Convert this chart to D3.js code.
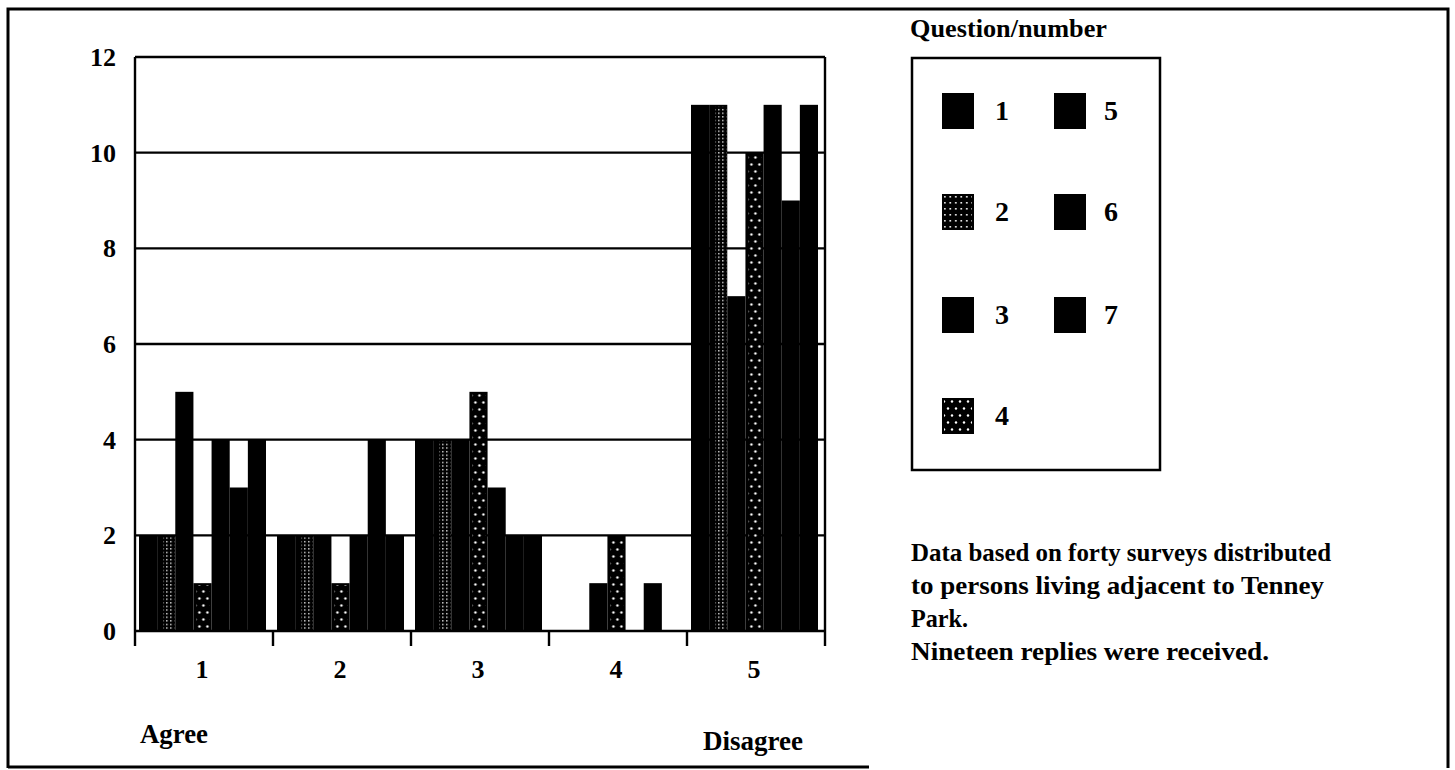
<!DOCTYPE html>
<html><head><meta charset="utf-8">
<script src="https://cdn.jsdelivr.net/npm/d3@7"></script>
<style>html,body{margin:0;padding:0;background:#fff;}svg{display:block;}</style>
</head><body>
<script>
// ---- data ----
const categories = ["1", "2", "3", "4", "5"];
const categoryEnds = ["Agree", "Disagree"];
const questions = ["1", "2", "3", "4", "5", "6", "7"];
const q1 = [2, 2, 4, 0, 11];
const q2 = [2, 2, 4, 0, 11];
const q3 = [5, 2, 4, 1, 7];
const q4 = [1, 1, 5, 2, 10];
const q5 = [4, 2, 3, 0, 11];
const q6 = [3, 4, 2, 1, 9];
const q7 = [4, 2, 2, 0, 11];
const yTicks = [0, 2, 4, 6, 8, 10, 12];
const legendTitle = "Question/number";
const noteLines = ["Data based on forty surveys distributed", "to persons living adjacent to Tenney", "Park.", "Nineteen replies were received."];

const series = [q1, q2, q3, q4, q5, q6, q7];
const fills = ["solid", "grid", "solid", "dots", "solid", "solid", "solid"];

const W = 1455, H = 770;
const svg = d3.select("body").append("svg").attr("width", W).attr("height", H);
const FONT = "'Liberation Serif','Times New Roman',serif";

const defs = svg.append("defs");
const pg = defs.append("pattern").attr("id", "grid").attr("patternUnits", "userSpaceOnUse")
  .attr("width", 4).attr("height", 3.6);
pg.append("rect").attr("x", 1).attr("y", 1).attr("width", 1.4).attr("height", 1.3).attr("fill", "#fff");
const pgl = defs.append("pattern").attr("id", "gridL").attr("patternUnits", "userSpaceOnUse")
  .attr("width", 5.5).attr("height", 6);
pgl.append("rect").attr("x", 2).attr("y", 2).attr("width", 1.6).attr("height", 1.6).attr("fill", "#fff");
const pd = defs.append("pattern").attr("id", "dots").attr("patternUnits", "userSpaceOnUse")
  .attr("width", 8).attr("height", 14);
pd.append("circle").attr("cx", 2).attr("cy", 3.5).attr("r", 1.2).attr("fill", "#fff");
pd.append("circle").attr("cx", 6).attr("cy", 10.5).attr("r", 1.2).attr("fill", "#fff");

// outer frame
const frame = svg.append("g").attr("stroke", "#000").attr("stroke-width", 3).attr("fill", "none");
frame.append("path").attr("d", "M8,768 L8,9 L1448,9 L1448,768");
frame.append("line").attr("x1", 8).attr("x2", 869).attr("y1", 767).attr("y2", 767);

// scales
const x0 = d3.scaleBand().domain(categories).range([135, 825]).padding(0);
const x1 = d3.scaleBand().domain(questions).range([4, 131]).padding(0);
const y = d3.scaleLinear().domain([0, 12]).range([631, 57]);

// gridlines
svg.append("g").selectAll("line").data(yTicks).join("line")
  .attr("x1", 135).attr("x2", 825).attr("y1", d => y(d)).attr("y2", d => y(d))
  .attr("stroke", "#000").attr("stroke-width", 2.4);

// bars
const bw = x1.bandwidth();
const barData = [];
categories.forEach((c, ci) => {
  questions.forEach((q, qi) => {
    barData.push({ c, q, v: series[qi][ci], fill: fills[qi] });
  });
});
const bars = svg.append("g").selectAll("g").data(barData).join("g")
  .attr("transform", d => `translate(${x0(d.c) + x1(d.q)},0)`);
bars.append("rect").attr("x", 0).attr("width", bw)
  .attr("y", d => y(d.v)).attr("height", d => y(0) - y(d.v)).attr("fill", "#000");
bars.filter(d => d.fill !== "solid" && d.v > 0).append("rect")
  .attr("x", d => d.fill === "grid" ? 6 : 3).attr("width", d => d.fill === "grid" ? bw - 7 : bw - 5)
  .attr("y", d => y(d.v) + 2).attr("height", d => Math.max(0, y(0) - y(d.v) - 4))
  .attr("fill", d => `url(#${d.fill})`);

// axes lines
const ax = svg.append("g").attr("stroke", "#000").attr("stroke-width", 2.4);
ax.append("line").attr("x1", 135).attr("x2", 135).attr("y1", y(12)).attr("y2", 646);
ax.append("line").attr("x1", 825).attr("x2", 825).attr("y1", y(12)).attr("y2", 646);
ax.selectAll("line.t").data(categories.slice(1)).join("line").attr("class", "t")
  .attr("x1", d => x0(d)).attr("x2", d => x0(d)).attr("y1", y(0)).attr("y2", 646);

// y tick labels
svg.append("g").selectAll("text").data(yTicks).join("text")
  .attr("x", 116).attr("y", d => y(d)).attr("dy", "0.35em").attr("text-anchor", "end")
  .attr("font-family", FONT).attr("font-weight", "bold").attr("font-size", 26)
  .text(d => d);

// x category labels
svg.append("g").selectAll("text").data(categories).join("text")
  .attr("x", d => x0(d) + x0.bandwidth() / 2 - 2).attr("y", 678).attr("text-anchor", "middle")
  .attr("font-family", FONT).attr("font-weight", "bold").attr("font-size", 26)
  .text(d => d);

svg.append("text").attr("x", 140).attr("y", 743).attr("font-family", FONT).attr("font-weight", "bold")
  .attr("font-size", 27).attr("textLength", 68).attr("lengthAdjust", "spacingAndGlyphs").text(categoryEnds[0]);
svg.append("text").attr("x", 703).attr("y", 750).attr("font-family", FONT).attr("font-weight", "bold")
  .attr("font-size", 27).attr("textLength", 100).attr("lengthAdjust", "spacingAndGlyphs").text(categoryEnds[1]);

// legend
svg.append("text").attr("x", 910).attr("y", 37).attr("font-family", FONT).attr("font-weight", "bold")
  .attr("font-size", 26).attr("textLength", 197).attr("lengthAdjust", "spacingAndGlyphs").text(legendTitle);
svg.append("rect").attr("x", 912).attr("y", 58).attr("width", 248).attr("height", 412)
  .attr("fill", "none").attr("stroke", "#000").attr("stroke-width", 2.5);
const legRows = [93, 194, 297, 398];
const legItems = questions.map((q, i) => ({ q, fill: fills[i], col: i < 4 ? 0 : 1, row: i < 4 ? i : i - 4 }));
const li = svg.append("g").selectAll("g").data(legItems).join("g")
  .attr("transform", d => `translate(${d.col ? 1054 : 942},${legRows[d.row]})`);
li.append("rect").attr("width", 32).attr("height", 36).attr("fill", "#000");
li.filter(d => d.fill !== "solid").append("rect").attr("x", 2).attr("y", 2).attr("width", 28).attr("height", 32)
  .attr("fill", d => `url(#${d.fill === "grid" ? "gridL" : d.fill})`);
li.append("text").attr("x", d => d.col ? 50 : 53).attr("y", 27).attr("font-family", FONT)
  .attr("font-weight", "bold").attr("font-size", 28).text(d => d.q);

// note text
const noteWidths = [420, 413, 57, 358];
svg.append("g").selectAll("text").data(noteLines).join("text")
  .attr("x", 911).attr("y", (d, i) => 561 + i * 33)
  .attr("font-family", FONT).attr("font-weight", "bold").attr("font-size", 25)
  .attr("textLength", (d, i) => noteWidths[i]).attr("lengthAdjust", "spacingAndGlyphs")
  .text(d => d);
</script>
</body></html>
